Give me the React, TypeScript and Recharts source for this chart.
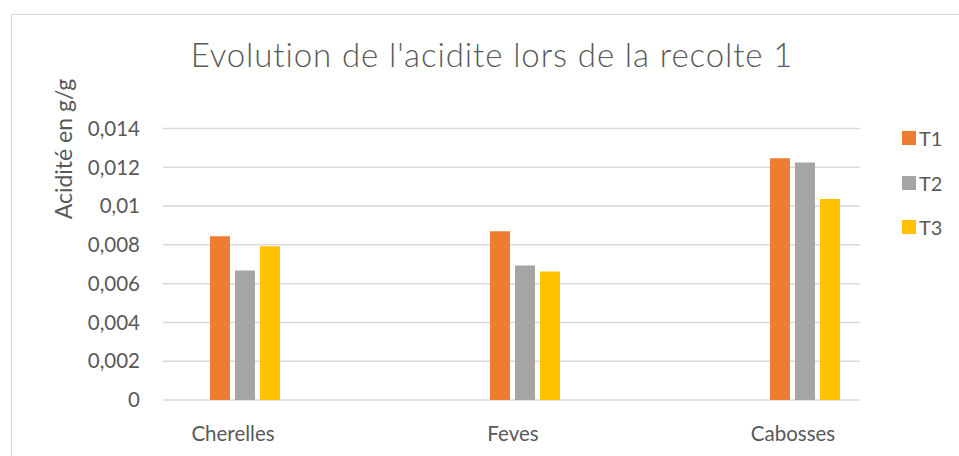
import React from 'react';
import { BarChart, Bar, XAxis, YAxis, CartesianGrid, Legend } from 'recharts';

const categories = ['Cherelles', 'Feves', 'Cabosses'];
const t1 = [0.00845, 0.0087, 0.01246];
const t2 = [0.00668, 0.00693, 0.01225];
const t3 = [0.00793, 0.00663, 0.01037];
const yTicks = [0, 0.002, 0.004, 0.006, 0.008, 0.01, 0.012, 0.014];

const series = [
  { key: 'T1', values: t1, color: '#ED7D31' },
  { key: 'T2', values: t2, color: '#A5A5A5' },
  { key: 'T3', values: t3, color: '#FFC000' },
];

const data = categories.map((name, i) => ({ name, T1: t1[i], T2: t2[i], T3: t3[i] }));

const FONT = 'Lato, "Open Sans", sans-serif';
const TEXT = '#595959';

const fmt = (v: number) => String(v).replace('.', ',');

const renderLegend = () => (
  <div style={{ fontFamily: FONT }}>
    {series.map((s) => (
      <div key={s.key} style={{ display: 'flex', alignItems: 'center', height: 44.5 }}>
        <span style={{ width: 14, height: 14, background: s.color, display: 'inline-block', marginRight: 3 }} />
        <span style={{ color: TEXT, fontSize: 20 }}>{s.key}</span>
      </div>
    ))}
  </div>
);

export default function App() {
  return (
    <div style={{ position: 'absolute', left: 0, top: 0, width: 959, height: 456, overflow: 'hidden', background: '#fff' }}>
      <div style={{ position: 'absolute', left: 11, top: 14, right: 0, bottom: 0, borderTop: '1.5px solid #d9d9d9', borderLeft: '1.5px solid #d9d9d9' }} />
      <div style={{ position: 'absolute', left: 0, width: 984, top: 35, lineHeight: 1.2, textAlign: 'center', fontFamily: FONT, fontSize: 33, letterSpacing: 0.9, color: TEXT, fontWeight: 300, whiteSpace: 'nowrap' }}>
        Evolution de l'acidite lors de la recolte 1
      </div>
      <div style={{ position: 'absolute', left: 63, top: 149, transform: 'translate(-50%, -50%) rotate(-90deg)', whiteSpace: 'nowrap', fontFamily: FONT, fontSize: 23, color: TEXT }}>
        Acidité en g/g
      </div>
      <div style={{ position: 'absolute', left: 0, top: 0 }}>
        <BarChart
          width={959}
          height={456}
          data={data}
          margin={{ top: 128.5, right: 42, bottom: 26, left: 103 }}
          barSize={20}
          barGap={5}
        >
          <CartesianGrid vertical={false} stroke="#d9d9d9" strokeWidth={1.5} />
          <XAxis
            dataKey="name"
            padding={{ left: -58, right: -85 }}
            axisLine={false}
            tickLine={false}
            tickSize={0}
            tickMargin={26}
            height={30}
            tick={{ fill: TEXT, fontSize: 20.5, fontFamily: FONT, dx: -12 }}
          />
          <YAxis
            domain={[0, 0.014]}
            ticks={yTicks}
            width={60}
            axisLine={false}
            tickLine={false}
            tickSize={0}
            tickMargin={23}
            tickFormatter={fmt}
            tick={{ fill: TEXT, fontSize: 20.5, fontFamily: FONT }}
          />
          <Legend
            layout="vertical"
            align="right"
            verticalAlign="top"
            content={renderLegend}
            wrapperStyle={{ left: 902, top: 116, width: 57 }}
          />
          {series.map((s) => (
            <Bar key={s.key} dataKey={s.key} fill={s.color} isAnimationActive={false} />
          ))}
        </BarChart>
      </div>
    </div>
  );
}
